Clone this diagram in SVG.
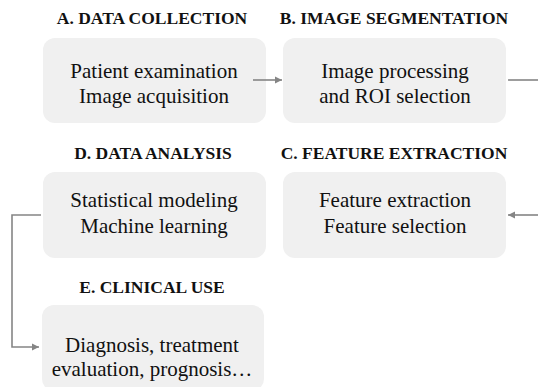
<svg xmlns="http://www.w3.org/2000/svg" width="538" height="387" viewBox="0 0 538 387">
<style>
.box{fill:#f0f0f0;}
.title{font-family:"Liberation Serif","Times New Roman",serif;font-weight:bold;font-size:17.5px;fill:#111;text-anchor:middle;}
.body{font-family:"Liberation Serif","Times New Roman",serif;font-size:21px;fill:#111;text-anchor:middle;}
.conn{fill:none;stroke:#858585;stroke-width:1.6;}
</style>
<defs>
<marker id="arr" viewBox="0 0 10 10" refX="10" refY="5" markerWidth="4.5" markerHeight="4.5" markerUnits="strokeWidth" orient="auto">
<path d="M0,0 L10,5 L0,10 Z" fill="#858585"/>
</marker>
</defs>
<rect width="538" height="387" fill="#fff"/>
<g id="nodeA">
<text class="title" x="152" y="24">A. DATA COLLECTION</text>
<rect class="box" x="43" y="38" width="223" height="85" rx="12"/>
<text class="body" x="154" y="78">Patient examination</text>
<text class="body" x="154" y="103">Image acquisition</text>
</g>
<g id="nodeB">
<text class="title" x="394" y="24">B. IMAGE SEGMENTATION</text>
<rect class="box" x="283" y="38" width="223" height="85" rx="12"/>
<text class="body" x="395" y="78">Image processing</text>
<text class="body" x="395" y="103">and ROI selection</text>
</g>
<g id="nodeD">
<text class="title" x="153" y="159">D. DATA ANALYSIS</text>
<rect class="box" x="43" y="172" width="223" height="86" rx="12"/>
<text class="body" x="154" y="207">Statistical modeling</text>
<text class="body" x="154" y="233">Machine learning</text>
</g>
<g id="nodeC">
<text class="title" x="394" y="159">C. FEATURE EXTRACTION</text>
<rect class="box" x="283" y="172" width="223" height="86" rx="12"/>
<text class="body" x="395" y="207">Feature extraction</text>
<text class="body" x="395" y="233">Feature selection</text>
</g>
<g id="nodeE">
<text class="title" x="152" y="293">E. CLINICAL USE</text>
<rect class="box" x="42" y="305" width="222" height="86" rx="12"/>
<text class="body" x="152" y="352">Diagnosis, treatment</text>
<text class="body" x="152" y="376">evaluation, prognosis…</text>
</g>
<g id="connectors">
<path class="conn" d="M253,80 H282" marker-end="url(#arr)"/>
<path class="conn" d="M508,80 H538"/>
<path class="conn" d="M538,215 H508" marker-end="url(#arr)"/>
<path class="conn" d="M41,215 H12 V347 H39" marker-end="url(#arr)"/>
</g>
</svg>
